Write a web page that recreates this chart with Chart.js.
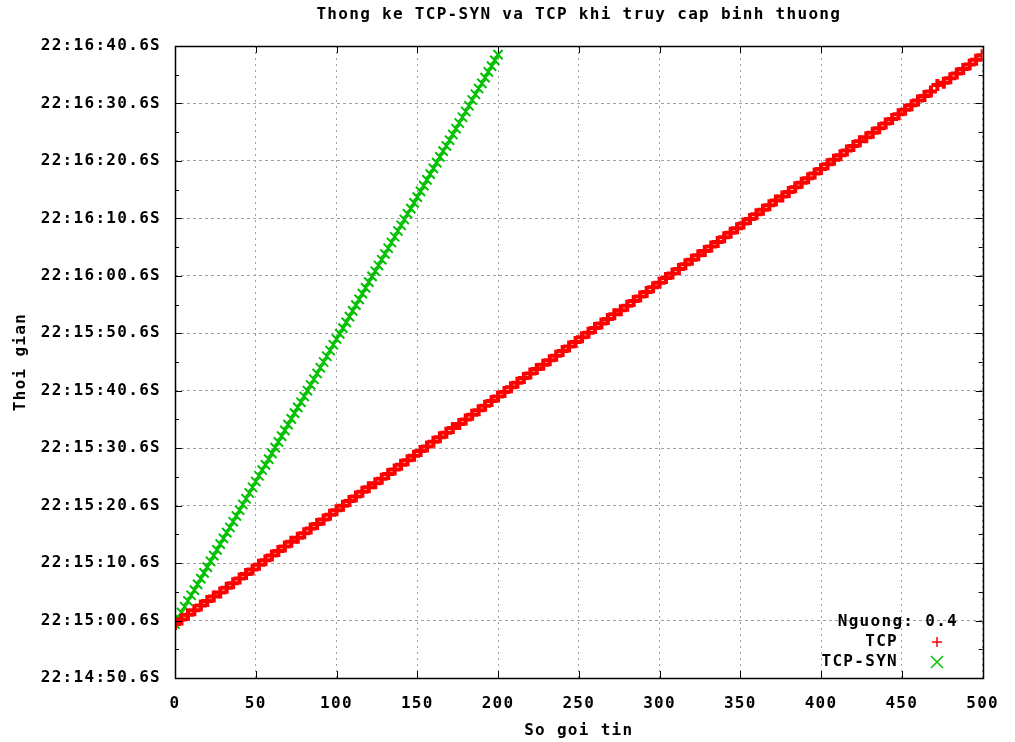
<!DOCTYPE html>
<html>
<head>
<meta charset="utf-8">
<style>
  body { margin: 0; background: #fff; }
</style>
</head>
<body>
<canvas id="chart" width="1015" height="742"></canvas>
<script src="https://cdn.jsdelivr.net/npm/chart.js"></script>
<script>
// so goi tin (x) et temps en secondes depuis 22:14:50.6 (y)
const tcpPackets = [0, 4, 8, 12, 16, 20, 24, 28, 32, 36, 40, 44, 48, 52, 56, 60, 64, 68, 72, 76,
  80, 84, 88, 92, 96, 100, 104, 108, 112, 116, 120, 124, 128, 132, 136, 140, 144, 148, 152, 156,
  160, 164, 168, 172, 176, 180, 184, 188, 192, 196, 200, 204, 208, 212, 216, 220, 224, 228, 232, 236,
  240, 244, 248, 252, 256, 260, 264, 268, 272, 276, 280, 284, 288, 292, 296, 300, 304, 308, 312, 316,
  320, 324, 328, 332, 336, 340, 344, 348, 352, 356, 360, 364, 368, 372, 376, 380, 384, 388, 392, 396,
  400, 404, 408, 412, 416, 420, 424, 428, 432, 436, 440, 444, 448, 452, 456, 460, 464, 468, 472, 476,
  480, 484, 488, 492, 496, 500];
const tcpTimes = [9.4, 10.2, 11.0, 11.8, 12.6, 13.4, 14.2, 14.9, 15.7, 16.5, 17.3, 18.1, 18.9, 19.7, 20.5, 21.3, 22.1, 22.9, 23.7, 24.4,
  25.2, 26.0, 26.8, 27.6, 28.4, 29.2, 30.0, 30.8, 31.6, 32.4, 33.2, 33.9, 34.7, 35.5, 36.3, 37.1, 37.9, 38.7, 39.5, 40.3,
  41.1, 41.9, 42.7, 43.5, 44.2, 45.0, 45.8, 46.6, 47.4, 48.2, 49.0, 49.8, 50.6, 51.4, 52.2, 53.0, 53.8, 54.5, 55.3, 56.1,
  56.9, 57.7, 58.5, 59.3, 60.1, 60.9, 61.7, 62.5, 63.3, 64.0, 64.8, 65.6, 66.4, 67.2, 68.0, 68.8, 69.6, 70.4, 71.2, 72.0,
  72.8, 73.6, 74.3, 75.1, 75.9, 76.7, 77.5, 78.3, 79.1, 79.9, 80.7, 81.5, 82.3, 83.1, 83.8, 84.6, 85.4, 86.2, 87.0, 87.8,
  88.6, 89.4, 90.2, 91.0, 91.8, 92.6, 93.4, 94.1, 94.9, 95.7, 96.5, 97.3, 98.1, 98.9, 99.7, 100.5, 101.3, 102.1, 103.2, 103.6,
  104.4, 105.2, 106.0, 106.8, 107.6, 108.4];

const synPackets = [0, 2, 4, 6, 8, 10, 12, 14, 16, 18, 20, 22, 24, 26, 28, 30, 32, 34, 36, 38,
  40, 42, 44, 46, 48, 50, 52, 54, 56, 58, 60, 62, 64, 66, 68, 70, 72, 74, 76, 78,
  80, 82, 84, 86, 88, 90, 92, 94, 96, 98, 100, 102, 104, 106, 108, 110, 112, 114, 116, 118,
  120, 122, 124, 126, 128, 130, 132, 134, 136, 138, 140, 142, 144, 146, 148, 150, 152, 154, 156, 158,
  160, 162, 164, 166, 168, 170, 172, 174, 176, 178, 180, 182, 184, 186, 188, 190, 192, 194, 196, 198, 200];
const synTimes = [9.4, 10.4, 11.4, 12.4, 13.4, 14.4, 15.3, 16.3, 17.3, 18.3, 19.3, 20.3, 21.3, 22.3, 23.3, 24.3, 25.3, 26.2, 27.2, 28.2,
  29.2, 30.2, 31.2, 32.2, 33.2, 34.2, 35.2, 36.2, 37.1, 38.1, 39.1, 40.1, 41.1, 42.1, 43.1, 44.1, 45.1, 46.1, 47.1, 48.0,
  49.0, 50.0, 51.0, 52.0, 53.0, 54.0, 55.0, 56.0, 57.0, 58.0, 59.0, 59.9, 60.9, 61.9, 62.9, 63.9, 64.9, 65.9, 66.9, 67.9,
  68.9, 69.9, 70.8, 71.8, 72.8, 73.8, 74.8, 75.8, 76.8, 77.8, 78.8, 79.8, 80.8, 81.7, 82.7, 83.7, 84.7, 85.7, 86.7, 87.7,
  88.7, 89.7, 90.7, 91.7, 92.6, 93.6, 94.6, 95.6, 96.6, 97.6, 98.6, 99.6, 100.6, 101.6, 102.6, 103.5, 104.5, 105.5, 106.5, 107.5, 108.5];

const yTickLabels = ['22:14:50.6S', '22:15:00.6S', '22:15:10.6S', '22:15:20.6S', '22:15:30.6S', '22:15:40.6S',
  '22:15:50.6S', '22:16:00.6S', '22:16:10.6S', '22:16:20.6S', '22:16:30.6S', '22:16:40.6S'];

const chartTitle = 'Thong ke TCP-SYN va TCP khi truy cap binh thuong';

const FONT = '"DejaVu Sans Mono", "Liberation Mono", monospace';
const SPACING = '1.3px';

// titre, cadre, petites graduations interieures et legende facon gnuplot
const gnuplotFrame = {
  id: 'gnuplotFrame',
  beforeLayout(chart) { chart.ctx.letterSpacing = SPACING; },
  beforeDraw(chart) { chart.ctx.letterSpacing = SPACING; },
  afterDraw(chart) {
    const { ctx, chartArea: a, scales: { x, y } } = chart;
    ctx.save();
    ctx.setLineDash([]);
    ctx.strokeStyle = '#000';
    ctx.lineWidth = 1;
    ctx.beginPath();
    x.ticks.forEach(t => {
      const px = Math.round(x.getPixelForValue(t.value)) + 0.5;
      ctx.moveTo(px, a.bottom); ctx.lineTo(px, a.bottom - 7);
      ctx.moveTo(px, a.top); ctx.lineTo(px, a.top + 7);
    });
    y.ticks.forEach(t => {
      const py = Math.round(y.getPixelForValue(t.value)) + 0.5;
      ctx.moveTo(a.left, py); ctx.lineTo(a.left + 7, py);
      ctx.moveTo(a.right, py); ctx.lineTo(a.right - 7, py);
      if (t.value + 5 < y.max) {
        const pm = Math.round(y.getPixelForValue(t.value + 5)) + 0.5;
        ctx.moveTo(a.left, pm); ctx.lineTo(a.left + 4, pm);
        ctx.moveTo(a.right, pm); ctx.lineTo(a.right - 4, pm);
      }
    });
    ctx.stroke();
    ctx.lineWidth = 1.5;
    ctx.strokeRect(Math.round(a.left) + 0.5, Math.round(a.top) + 0.5,
      Math.round(a.right - a.left), Math.round(a.bottom - a.top));

    ctx.letterSpacing = SPACING;
    ctx.font = 'bold 16px ' + FONT;
    ctx.fillStyle = '#000';
    ctx.textBaseline = 'middle';

    // titre centre sur la zone du graphique
    ctx.textAlign = 'center';
    ctx.fillText(chartTitle, (a.left + a.right) / 2, 15);

    // legende
    ctx.textAlign = 'right';
    ctx.fillText('Nguong: 0.4', 958, 622);
    ctx.fillText('TCP', 898, 642);
    ctx.fillText('TCP-SYN', 898, 662);
    ctx.lineWidth = 1.5;
    ctx.strokeStyle = '#ff0000';
    ctx.beginPath();
    ctx.moveTo(932, 642); ctx.lineTo(942, 642);
    ctx.moveTo(937, 637); ctx.lineTo(937, 647);
    ctx.stroke();
    ctx.strokeStyle = '#00c000';
    ctx.beginPath();
    ctx.moveTo(931, 656); ctx.lineTo(943, 668);
    ctx.moveTo(943, 656); ctx.lineTo(931, 668);
    ctx.stroke();
    ctx.restore();
  }
};

new Chart(document.getElementById('chart'), {
  type: 'scatter',
  data: {
    datasets: [
      {
        label: 'TCP',
        data: tcpPackets.map((p, i) => ({ x: p, y: tcpTimes[i] })),
        pointStyle: 'cross',
        pointRadius: 6,
        borderWidth: 4,
        borderColor: '#ff0000',
        backgroundColor: '#ff0000'
      },
      {
        label: 'TCP-SYN',
        data: synPackets.map((p, i) => ({ x: p, y: synTimes[i] })),
        pointStyle: 'crossRot',
        pointRadius: 6.5,
        borderWidth: 2,
        borderColor: '#00c000',
        backgroundColor: '#00c000'
      }
    ]
  },
  options: {
    responsive: false,
    animation: false,
    events: [],
    layout: { padding: { left: 0, right: 27, top: 46, bottom: 0 } },
    plugins: {
      legend: { display: false },
      tooltip: { enabled: false },
      title: { display: false }
    },
    scales: {
      x: {
        type: 'linear',
        min: 0,
        max: 500,
        afterFit(scale) { scale.height = 64; },
        ticks: {
          stepSize: 50,
          padding: 16,
          color: '#000',
          maxRotation: 0,
          font: { family: FONT, size: 16, weight: 'bold' }
        },
        grid: { color: '#a0a0a0', lineWidth: 1, drawTicks: false },
        border: { display: false, dash: [2, 4] },
        title: {
          display: true,
          text: 'So goi tin',
          color: '#000',
          font: { family: FONT, size: 16, weight: 'bold' },
          padding: { top: 0, bottom: 2 }
        }
      },
      y: {
        type: 'linear',
        min: 0,
        max: 110,
        afterFit(scale) { scale.width = 175; },
        ticks: {
          stepSize: 10,
          padding: 14,
          color: '#000',
          font: { family: FONT, size: 16, weight: 'bold' },
          callback: (v) => yTickLabels[Math.round(v / 10)]
        },
        grid: { color: '#a0a0a0', lineWidth: 1, drawTicks: false },
        border: { display: false, dash: [3, 3] },
        title: {
          display: true,
          text: 'Thoi gian',
          color: '#000',
          font: { family: FONT, size: 16, weight: 'bold' },
          padding: { top: 11, bottom: 0 }
        }
      }
    }
  },
  plugins: [gnuplotFrame]
});
</script>
</body>
</html>
